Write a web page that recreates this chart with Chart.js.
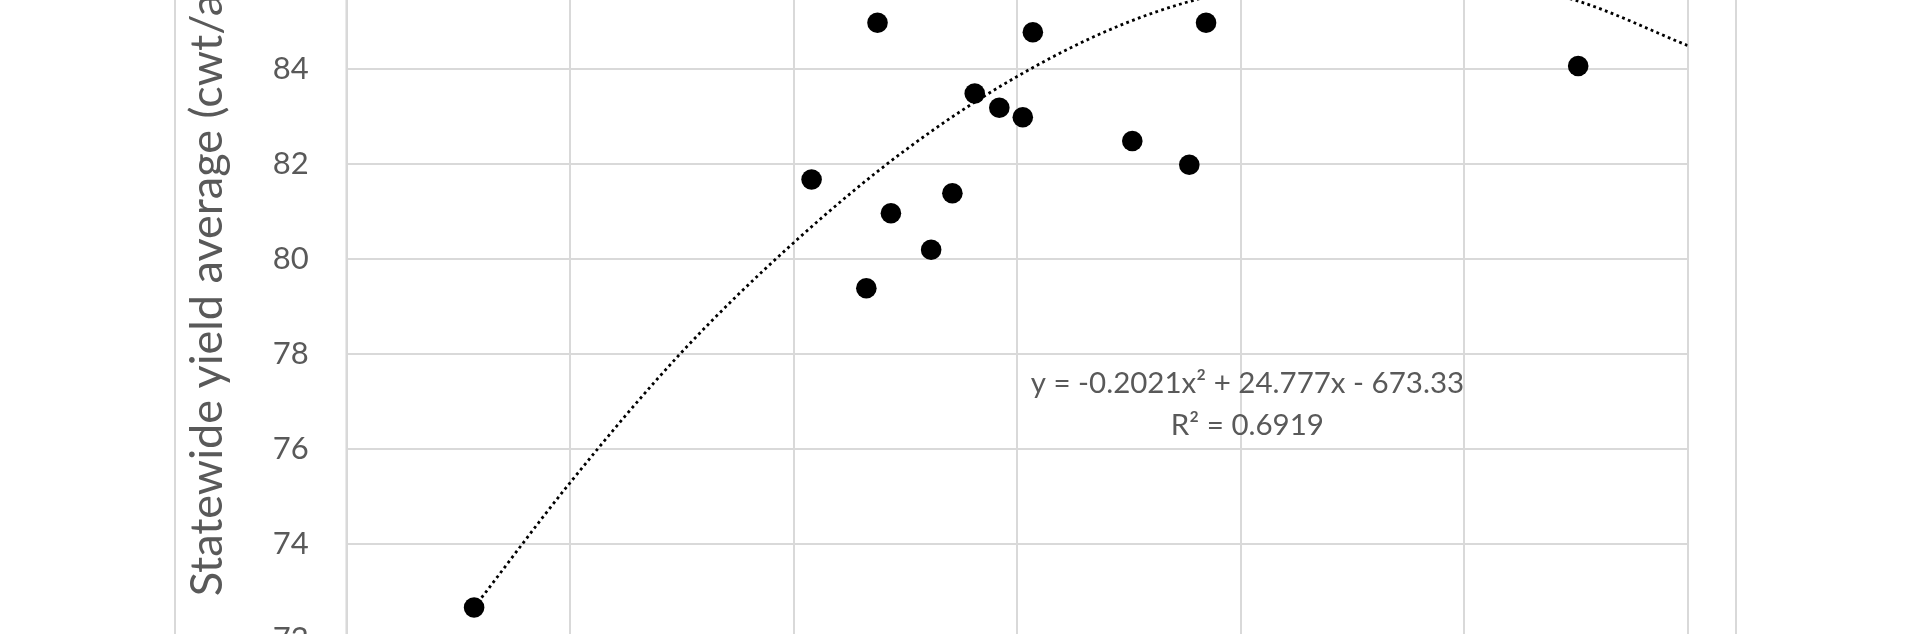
<!DOCTYPE html>
<html><head><meta charset="utf-8">
<script src="https://cdn.jsdelivr.net/npm/chart.js@4.4.1/dist/chart.umd.min.js"></script>
<style>
html,body{margin:0;padding:0;background:#fff;overflow:hidden;width:1920px;height:634px;}
#c{position:absolute;left:0;top:-200px;}
</style></head><body>
<canvas id="c" width="1920" height="1100"></canvas>
<script>
// ---- data ----
const yieldX = [53.14, 56.16, 56.65, 56.75, 56.87, 57.23, 57.42, 57.62, 57.84, 58.05, 58.14, 59.03, 59.54, 59.69, 63.02];
const yieldY = [72.67, 81.68, 79.39, 84.98, 80.97, 80.20, 81.39, 83.49, 83.19, 82.99, 84.78, 82.49, 81.99, 84.98, 84.07];
const trendX = [53.14, 54, 55, 56, 57, 58, 59, 60, 61, 62, 63, 64];
const trendY = [72.67, 75.30, 78.05, 80.35, 82.30, 83.85, 85.00, 85.70, 86.05, 85.95, 85.45, 84.50];
const yTicks = [72, 74, 76, 78, 80, 82, 84, 86, 88];
const xTicks = [52, 54, 56, 58, 60, 62, 64];
const yTitle = 'Statewide yield average (cwt/acre)';
const eqLines = ['y = -0.2021x\u00B2 + 24.777x - 673.33', 'R\u00B2 = 0.6919'];

const pts = yieldX.map((x, i) => ({x, y: yieldY[i]}));
const trend = trendX.map((x, i) => ({x, y: trendY[i]}));

const GRID = '#d9d9d9';
const TXT = '#595959';

const frame = {
  id: 'frame',
  beforeDraw(chart) {
    const ctx = chart.ctx;
    ctx.save();
    ctx.fillStyle = '#fff';
    ctx.fillRect(0, 0, chart.width, chart.height);
    ctx.strokeStyle = GRID;
    ctx.lineWidth = 2;
    ctx.strokeRect(175, 60, 1561, 980);
    ctx.restore();
  },
  beforeDatasetsDraw(chart) {
    const {ctx, chartArea: a} = chart;
    ctx.save();
    ctx.strokeStyle = GRID;
    ctx.lineWidth = 2.5;
    ctx.beginPath();
    ctx.moveTo(a.left, a.top);
    ctx.lineTo(a.left, a.bottom);
    ctx.stroke();
    ctx.restore();
  }
};
const eqLabel = {
  id: 'eqLabel',
  afterDatasetsDraw(chart) {
    const {ctx, scales: {x, y}} = chart;
    ctx.save();
    ctx.font = '29.5px Lato';
    ctx.fillStyle = TXT;
    ctx.textAlign = 'center';
    ctx.textBaseline = 'middle';
    const cx = x.getPixelForValue(60.06);
    ctx.fillText(eqLines[0], cx, y.getPixelForValue(77.39));
    ctx.fillText(eqLines[1], cx, y.getPixelForValue(76.51));
    ctx.restore();
  }
};

new Chart(document.getElementById('c'), {
  type: 'scatter',
  data: {
    datasets: [
      { label: 'Yield', data: pts, backgroundColor: '#000', borderColor: '#000', pointRadius: 10.3, pointBorderWidth: 0, pointHoverRadius: 10.3 },
      { label: 'Trend', data: trend, showLine: true, pointRadius: 0, borderColor: '#000', borderWidth: 2.8, borderDash: [2.8, 3.4], cubicInterpolationMode: 'monotone', fill: false }
    ]
  },
  options: {
    responsive: false,
    animation: false,
    events: [],
    layout: { padding: { left: 180, right: 232.3, top: 79.3, bottom: 160.7 } },
    plugins: { legend: { display: false }, tooltip: { enabled: false } },
    scales: {
      x: {
        type: 'linear', min: xTicks[0], max: xTicks[xTicks.length - 1],
        ticks: { stepSize: xTicks[1] - xTicks[0], color: TXT, font: { family: 'Lato', size: 31 }, padding: 10 },
        grid: { color: GRID, lineWidth: 2, drawTicks: false },
        border: { color: GRID, width: 2 },
        afterFit(s) { s.height = 100; }
      },
      y: {
        type: 'linear', min: yTicks[0], max: yTicks[yTicks.length - 1],
        ticks: { stepSize: yTicks[1] - yTicks[0], color: TXT, font: { family: 'Lato', size: 31 }, padding: 38 },
        grid: { color: GRID, lineWidth: 2, drawTicks: false },
        border: { color: GRID, width: 2 },
        title: { display: true, text: yTitle, color: TXT, font: { family: 'Lato', size: 45, weight: 'normal' }, padding: { top: 0, bottom: 0 } },
        afterFit(s) { s.width = 166.7; }
      }
    }
  },
  plugins: [frame, eqLabel]
});
</script>
</body></html>
